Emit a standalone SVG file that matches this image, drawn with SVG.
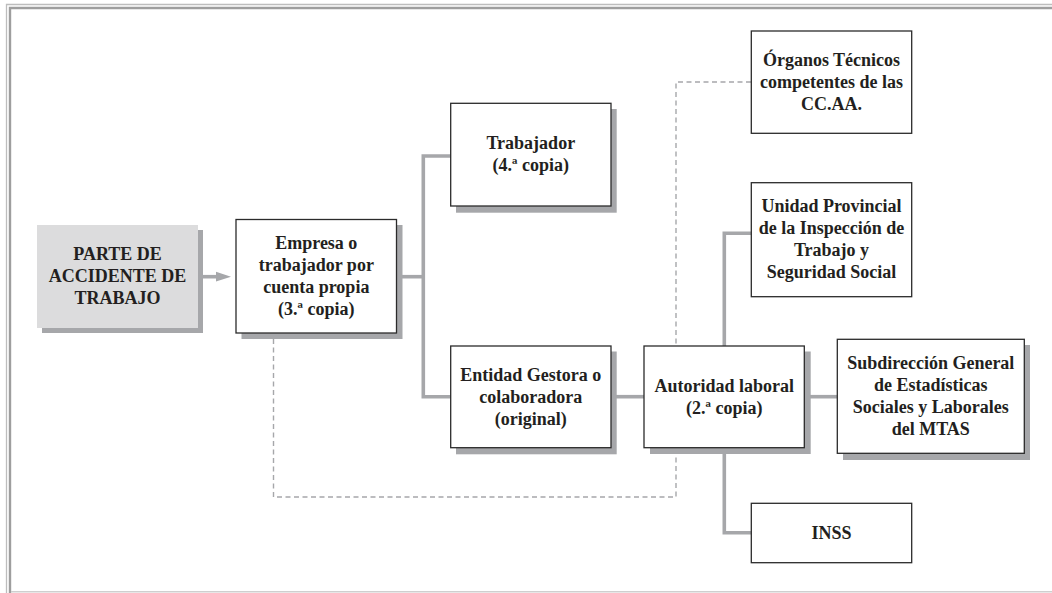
<svg xmlns="http://www.w3.org/2000/svg" width="1052" height="593" viewBox="0 0 1052 593">
<style>
.t{font-family:"Liberation Serif","Times New Roman",serif;font-weight:bold;font-size:18px;fill:#231f20;text-anchor:middle}
.box{fill:#fff;stroke:#2b2b2b;stroke-width:1.3}
.sh{fill:#a6a7aa}
.c{fill:none;stroke:#a6a7aa;stroke-width:3.6}
.d{fill:none;stroke:#a6a7aa;stroke-width:1.4;stroke-dasharray:5 3.5}
.ah{fill:#a6a7aa}
</style>
<rect width="1052" height="593" fill="#fff"/>
<g id="frame" fill="none">
<path d="M6.5,593 V4.5 H1052" stroke="#bdbdbd" stroke-width="1.3"/>
<path d="M10,593 V8 H1052" stroke="#9e9e9e" stroke-width="2.4"/>
<path d="M11,591.8 H1052" stroke="#cfcfcf" stroke-width="1.5"/>
</g>
<g id="connectors">
<path class="d" d="M273.5,339 V497 H676 V82 H751"/>
<path class="c" d="M203,276.7 H218"/>
<polygon class="ah" points="216,271.8 231,276.7 216,281.6"/>
<path class="c" d="M402,276.7 H423.3"/>
<path class="c" d="M451,156 H423.3 V396.7 H451"/>
<path class="c" d="M616,396.7 H644"/>
<path class="c" d="M810,396.7 H837"/>
<path class="c" d="M751,233.3 H724.3 V346"/>
<path class="c" d="M724.3,454 V532.8 H751"/>
</g>
<g id="n-parte">
<rect class="sh" x="42" y="230" width="161" height="103"/>
<rect x="37" y="225" width="161" height="103" fill="#dcdcdd"/>
<text class="t" x="117.5" y="260">PARTE DE</text>
<text class="t" x="117.5" y="282">ACCIDENTE DE</text>
<text class="t" x="117.5" y="304">TRABAJO</text>
</g>
<g id="n-empresa">
<rect class="sh" x="241.5" y="225" width="161" height="114"/>
<rect class="box" x="236" y="219.5" width="160.5" height="113.5"/>
<text class="t" x="316.3" y="249">Empresa o</text>
<text class="t" x="316.3" y="271">trabajador por</text>
<text class="t" x="316.3" y="293">cuenta propia</text>
<text class="t" x="316.3" y="315">(3.ª copia)</text>
</g>
<g id="n-trabajador">
<rect class="sh" x="456" y="109" width="160.7" height="103.7"/>
<rect class="box" x="450.7" y="103.3" width="160.3" height="102.7"/>
<text class="t" x="530.8" y="149">Trabajador</text>
<text class="t" x="530.8" y="171">(4.ª copia)</text>
</g>
<g id="n-entidad">
<rect class="sh" x="456" y="351.5" width="160.7" height="102.8"/>
<rect class="box" x="450.7" y="346" width="160.3" height="101.7"/>
<text class="t" x="530.8" y="381">Entidad Gestora o</text>
<text class="t" x="530.8" y="403">colaboradora</text>
<text class="t" x="530.8" y="425">(original)</text>
</g>
<g id="n-autoridad">
<rect class="sh" x="650" y="351.5" width="160.7" height="102.5"/>
<rect class="box" x="644" y="346" width="160.3" height="101.7"/>
<text class="t" x="724.2" y="392">Autoridad laboral</text>
<text class="t" x="724.2" y="414">(2.ª copia)</text>
</g>
<g id="n-organos">
<rect class="box" x="751.3" y="31" width="160.4" height="102.3"/>
<text class="t" x="831.5" y="66">Órganos Técnicos</text>
<text class="t" x="831.5" y="88">competentes de las</text>
<text class="t" x="831.5" y="110">CC.AA.</text>
</g>
<g id="n-unidad">
<rect class="box" x="751.3" y="182.7" width="160.4" height="114"/>
<text class="t" x="831.5" y="212">Unidad Provincial</text>
<text class="t" x="831.5" y="234">de la Inspección de</text>
<text class="t" x="831.5" y="256">Trabajo y</text>
<text class="t" x="831.5" y="278">Seguridad Social</text>
</g>
<g id="n-subdireccion">
<rect class="sh" x="843" y="345" width="187" height="115"/>
<rect class="box" x="837.3" y="339.3" width="187" height="114"/>
<text class="t" x="930.8" y="369">Subdirección General</text>
<text class="t" x="930.8" y="391">de Estadísticas</text>
<text class="t" x="930.8" y="413">Sociales y Laborales</text>
<text class="t" x="930.8" y="435">del MTAS</text>
</g>
<g id="n-inss">
<rect class="box" x="751.3" y="503.3" width="160.4" height="59.4"/>
<text class="t" x="831.5" y="539">INSS</text>
</g>
</svg>
